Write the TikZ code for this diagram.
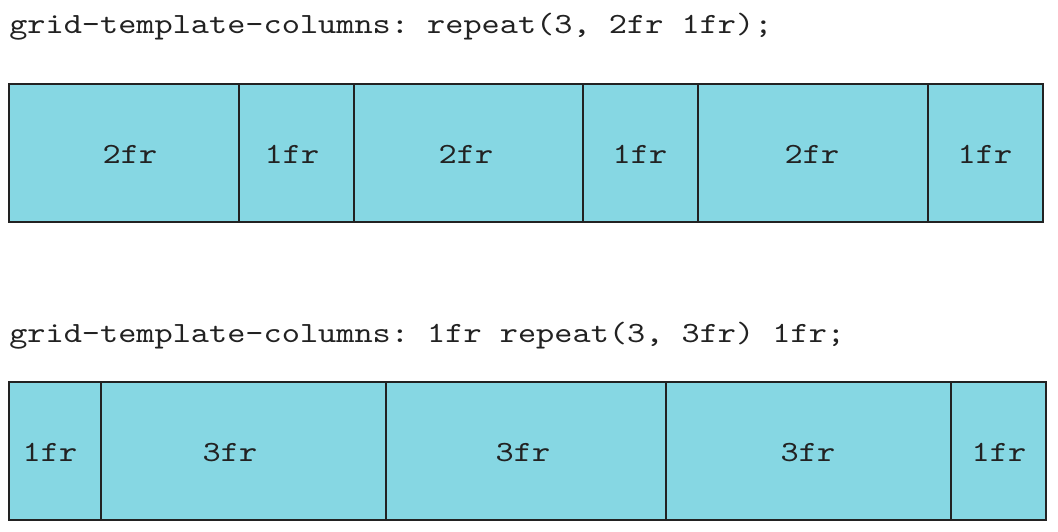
\documentclass[tikz,border=0pt]{standalone}
\usepackage{fontspec}
\setmonofont{lmmono10-regular.otf}[FakeStretch=1.18]
\definecolor{cellfill}{HTML}{86D7E3}
\definecolor{ink}{HTML}{222222}
\begin{document}
\begin{tikzpicture}[x=0.75pt,y=-0.75pt,
  txt/.style={inner sep=0pt, text=ink, font=\ttfamily\fontsize{22}{26}\selectfont},
  cell/.style={draw=ink, fill=cellfill, line width=1.5pt, inner sep=0pt,
    minimum height=0.75pt*138},
  lbl/.style={txt, anchor=base},
  title/.style={txt, anchor=base west}]
\useasboundingbox (0,0) rectangle (1058,532);
\node[title] (t1) at (9,33) {grid-template-columns: repeat(3, 2fr 1fr);};
\node[title] (t2) at (9,342) {grid-template-columns: 1fr repeat(3, 3fr) 1fr;};
% top row
\node[cell, minimum width=0.75pt*230] (a1) at (124,153) {};
\node[cell, minimum width=0.75pt*115] (a2) at (296.5,153) {};
\node[cell, minimum width=0.75pt*229] (a3) at (468.5,153) {};
\node[cell, minimum width=0.75pt*115] (a4) at (640.5,153) {};
\node[cell, minimum width=0.75pt*230] (a5) at (813,153) {};
\node[cell, minimum width=0.75pt*115] (a6) at (985.5,153) {};
\node[lbl] (la1) at (130,163) {2fr};
\node[lbl] (la2) at (292,163) {1fr};
\node[lbl] (la3) at (466,163) {2fr};
\node[lbl] (la4) at (640,163) {1fr};
\node[lbl] (la5) at (812,163) {2fr};
\node[lbl] (la6) at (985,163) {1fr};
% bottom row
\node[cell, minimum width=0.75pt*92] (b1) at (55,451) {};
\node[cell, minimum width=0.75pt*285] (b2) at (243.5,451) {};
\node[cell, minimum width=0.75pt*280] (b3) at (526,451) {};
\node[cell, minimum width=0.75pt*285] (b4) at (808.5,451) {};
\node[cell, minimum width=0.75pt*95] (b5) at (998.5,451) {};
\node[lbl] (lb1) at (50,461) {1fr};
\node[lbl] (lb2) at (230,461) {3fr};
\node[lbl] (lb3) at (523,461) {3fr};
\node[lbl] (lb4) at (808,461) {3fr};
\node[lbl] (lb5) at (999,461) {1fr};
\end{tikzpicture}
\end{document}
